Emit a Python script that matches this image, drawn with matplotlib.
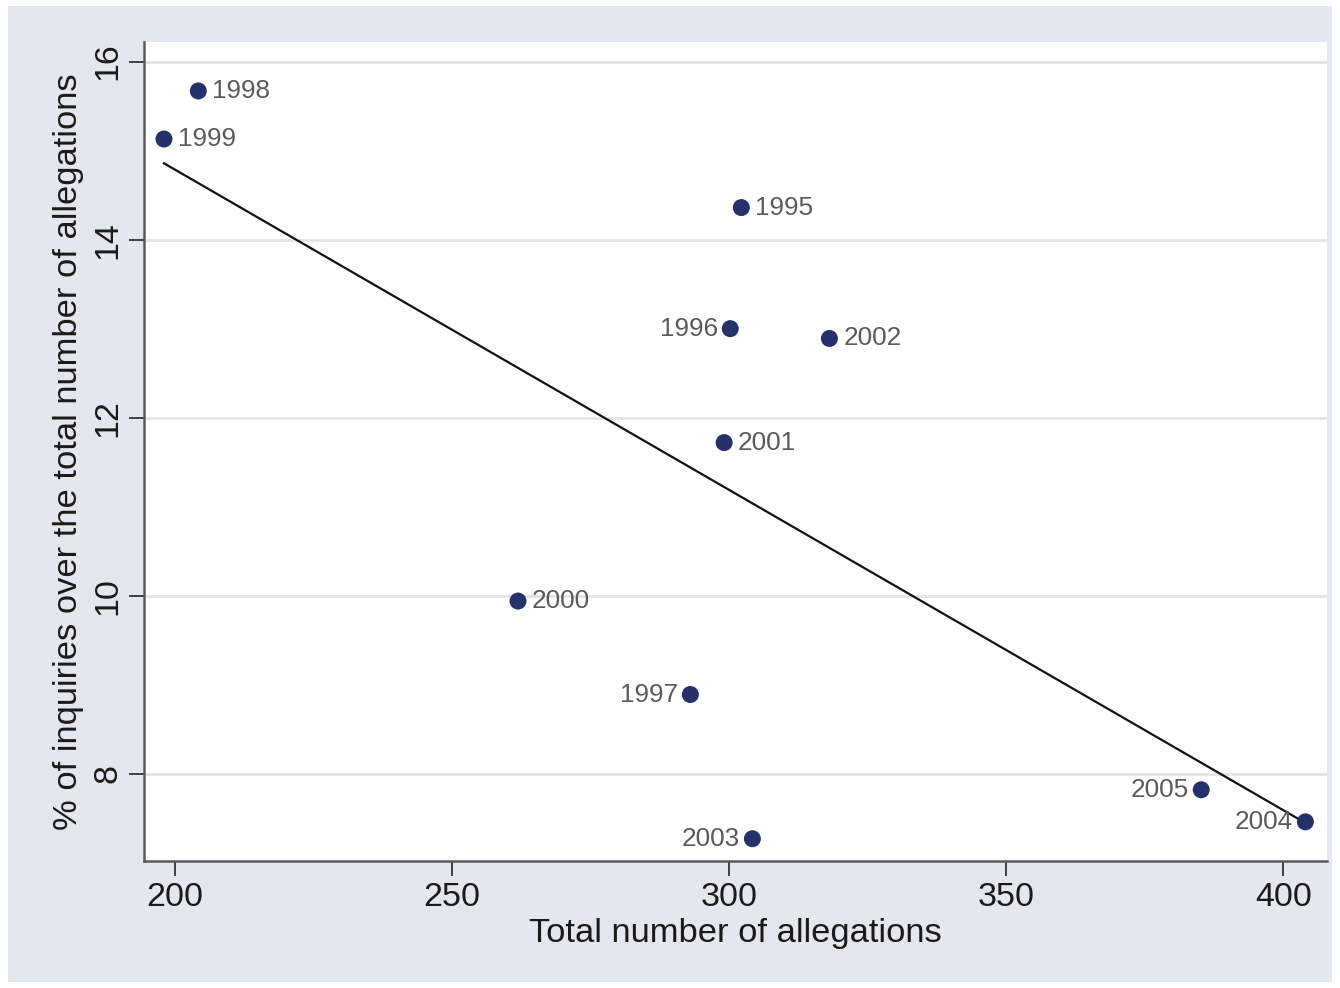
import numpy as np
import matplotlib.pyplot as plt
from matplotlib.patches import Rectangle

plt.rcParams['font.family'] = ['Liberation Sans', 'DejaVu Sans']

# Yearly totals of allegations and share of inquiries (%)
years = ['1995', '1996', '1997', '1998', '1999', '2000',
         '2001', '2002', '2003', '2004', '2005']
allegations = [302.2, 300.2, 293.0, 204.2, 198.0, 261.9,
               299.1, 318.1, 304.2, 404.0, 385.2]
inquiry_pct = [14.36, 13.00, 8.89, 15.67, 15.13, 9.94,
               11.72, 12.89, 7.27, 7.46, 7.82]
# label placement: 'r' = right of marker, 'l' = left of marker
label_side = ['r', 'l', 'l', 'r', 'r', 'r', 'r', 'r', 'l', 'l', 'l']

x_ticks = [200, 250, 300, 350, 400]
y_ticks = [8, 10, 12, 14, 16]

W, H = 1340, 988
fig = plt.figure(figsize=(W / 100, H / 100), dpi=100, facecolor='white')
fig.add_artist(Rectangle((8 / W, 6 / H), (1332 - 8) / W, (982 - 6) / H,
                         transform=fig.transFigure, facecolor='#e3e7f0',
                         edgecolor='none', zorder=-10))

ax = fig.add_axes([144 / W, 1 - 861 / H, (1327 - 144) / W, (861 - 42) / H])
ax.set_facecolor('white')
ax.set_xlim(194.4, 407.9)
ax.set_ylim(7.02, 16.22)

ax.set_yticks(y_ticks)
ax.set_xticks(x_ticks)
ax.grid(axis='y', color='#e4e4e4', linewidth=2.0)
ax.set_axisbelow(True)

for s in ['top', 'right']:
    ax.spines[s].set_visible(False)
for s in ['left', 'bottom']:
    ax.spines[s].set_color('#5a5a5a')
    ax.spines[s].set_linewidth(1.8)

ax.tick_params(axis='both', direction='out', length=11, width=1.3,
               color='#333333', labelsize=24.5, labelcolor='#1a1a1a', pad=4)
for lab in ax.get_yticklabels():
    lab.set_rotation(90)
    lab.set_va('center')

# least-squares fit line over the observed range
x_arr = np.array(allegations)
y_arr = np.array(inquiry_pct)
slope, intercept = np.polyfit(x_arr, y_arr, 1)
xs = np.array([x_arr.min(), x_arr.max()])
ax.plot(xs, slope * xs + intercept, color='#111111', linewidth=1.6, zorder=2)

ax.scatter(allegations, inquiry_pct, s=150, color='#26316b',
           edgecolors='none', zorder=3)

for yr, xv, yv, side in zip(years, allegations, inquiry_pct, label_side):
    if side == 'r':
        ax.annotate(yr, (xv, yv), xytext=(10, 0), textcoords='offset points',
                    ha='left', va='center', fontsize=18.8, color='#5a5a5a',
                    zorder=4)
    else:
        ax.annotate(yr, (xv, yv), xytext=(-9, 0), textcoords='offset points',
                    ha='right', va='center', fontsize=18.8, color='#5a5a5a',
                    zorder=4)

ax.set_xlabel('Total number of allegations', fontsize=24.8, color='#1a1a1a',
              labelpad=4)
ax.set_ylabel('% of inquiries over the total number of allegations',
              fontsize=24.8, color='#1a1a1a', labelpad=6)

fig.savefig('out.png', dpi=100, facecolor=fig.get_facecolor())
